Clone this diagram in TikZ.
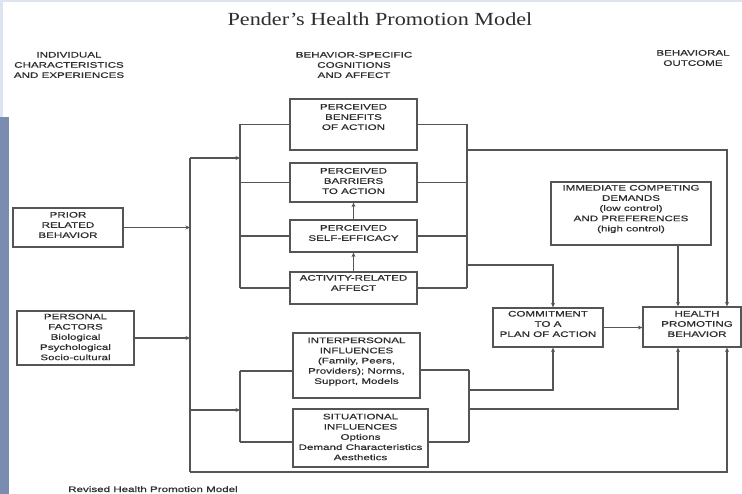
\documentclass[tikz,border=0pt]{standalone}
\usepackage{fontspec}
\setmainfont{Liberation Serif}
\newfontfamily\lblfont[FakeStretch=1.45,FakeBold=0.5]{Liberation Sans}
\newfontfamily\titlefont[FakeStretch=1.2]{Liberation Serif}
\usetikzlibrary{arrows.meta}
\definecolor{ln}{HTML}{555555}
\definecolor{tx}{HTML}{2E2E2E}
\definecolor{barc}{RGB}{122,140,176}
\definecolor{faint}{RGB}{222,227,242}
\begin{document}
\begin{tikzpicture}[x=1pt,y=-1pt,
  box/.style={draw=ln, line width=1.3pt, inner sep=0pt, fill=white},
  lbl/.style={font=\lblfont\fontsize{8}{10.2}\selectfont, text=tx, align=center, inner sep=0pt},
  conn/.style={draw=ln, line width=1.3pt},
  arr/.style={conn, -{Stealth[length=4.5pt,width=4pt]}}]
\useasboundingbox[fill=white] (0,0) rectangle (742,494);
% side decorations
\fill[faint] (0,0) rectangle (742,2);
\fill[faint] (0,0) rectangle (3,117);
\fill[barc] (0,117) rectangle (9,494);
% title and headers
\node[font=\titlefont\fontsize{18.5}{20}\selectfont, text=tx, inner sep=0pt] (title) at (380,19) {Pender’s Health Promotion Model};
\node[lbl] (h1) at (69,65) {INDIVIDUAL\\CHARACTERISTICS\\AND EXPERIENCES};
\node[lbl] (h2) at (354,65) {BEHAVIOR-SPECIFIC\\COGNITIONS\\AND AFFECT};
\node[lbl] (h3) at (693,58) {BEHAVIORAL\\OUTCOME};
\node[lbl, anchor=base west] (cap) at (68,492) {Revised Health Promotion Model};
% boxes
\node[box, minimum width=110pt, minimum height=39pt] (prior) at (68,227.5) {};
\node[lbl] at ([yshift=2.5pt]prior.center) {PRIOR\\RELATED\\BEHAVIOR};
\node[box, minimum width=117pt, minimum height=54pt] (personal) at (75.5,338) {};
\node[lbl] at ([yshift=1pt]personal.center) {PERSONAL\\FACTORS\\Biological\\Psychological\\Socio-cultural};
\node[box, minimum width=127pt, minimum height=51pt] (benefits) at (353.5,124.5) {};
\node[lbl] at ([yshift=7.5pt]benefits.center) {PERCEIVED\\BENEFITS\\OF ACTION};
\node[box, minimum width=127pt, minimum height=39pt] (barriers) at (353.5,182.5) {};
\node[lbl] at ([yshift=1.5pt]barriers.center) {PERCEIVED\\BARRIERS\\TO ACTION};
\node[box, minimum width=127pt, minimum height=32pt] (selfeff) at (353.5,236) {};
\node[lbl] at ([yshift=3pt]selfeff.center) {PERCEIVED\\SELF-EFFICACY};
\node[box, minimum width=127pt, minimum height=32pt] (activity) at (353.5,288) {};
\node[lbl] at ([yshift=5pt]activity.center) {ACTIVITY-RELATED\\AFFECT};
\node[box, minimum width=127pt, minimum height=65pt] (inter) at (356.5,365.5) {};
\node[lbl] at ([yshift=4pt]inter.center) {INTERPERSONAL\\INFLUENCES\\(Family, Peers,\\Providers); Norms,\\Support, Models};
\node[box, minimum width=135pt, minimum height=58pt] (situ) at (360.5,438) {};
\node[lbl] at ([yshift=1pt]situ.center) {SITUATIONAL\\INFLUENCES\\Options\\Demand Characteristics\\Aesthetics};
\node[box, minimum width=160pt, minimum height=63pt] (compete) at (631,213.5) {};
\node[lbl] at ([yshift=4.5pt]compete.center) {IMMEDIATE COMPETING\\DEMANDS\\(low control)\\AND PREFERENCES\\(high control)};
\node[box, minimum width=110pt, minimum height=39pt] (commit) at (548,327.5) {};
\node[lbl] at ([yshift=3.5pt]commit.center) {COMMITMENT\\TO A\\PLAN OF ACTION};
\node[box, minimum width=98pt, minimum height=40pt] (hpb) at (692,327) {};
\node[lbl] at ([xshift=5pt,yshift=3pt]hpb.center) {HEALTH\\PROMOTING\\BEHAVIOR};
% junction coordinates
\coordinate (L1) at (190,158);
\coordinate (L2) at (190,410);
\coordinate (L3) at (190,472);
\coordinate (T) at (240,158);
\coordinate (R1) at (467,150);
\coordinate (R2) at (467,265);
\coordinate (B) at (240,410);
\coordinate (Ba) at (240,371);
\coordinate (Bb) at (240,442);
\coordinate (Ra) at (469,370);
\coordinate (Rb) at (469,442);
\coordinate (Rc) at (469,390);
\coordinate (Rd) at (469,409);
\coordinate (xc) at (553,0);
\coordinate (xd) at (678,0);
\coordinate (xe) at (727,0);
% left bus
\draw[arr] (prior.east) -- (prior.east -| L1);
\draw[arr] (personal.east) -- (personal.east -| L1);
\draw[conn] (L1) -- (L3);
\draw[arr] (L1) -- (T);
\draw[arr] (L2) -- (B);
\draw[arr] (L3) -| (hpb.south -| xe);
% cognitions bus
\draw[conn] (benefits.west -| T) -- (activity.west -| T);
\foreach \n in {benefits,barriers,selfeff,activity}{
  \draw[conn] (\n.west -| T) -- (\n.west);
  \draw[conn] (\n.east) -- (\n.east -| R1);
}
\draw[conn] (benefits.east -| R1) -- (activity.east -| R1);
\draw[arr] (selfeff.north) -- (barriers.south);
\draw[arr] (activity.north) -- (selfeff.south);
\draw[arr] (R1) -| (hpb.north -| xe);
\draw[arr] (R2) -| (commit.north -| xc);
% influences bus
\draw[conn] (Ba) -- (Bb);
\draw[conn] (Ba) -- (Ba -| inter.west);
\draw[conn] (Bb) -- (Bb -| situ.west);
\draw[conn] (Ra) -- (Rb);
\draw[conn] (inter.east |- Ra) -- (Ra);
\draw[conn] (situ.east |- Rb) -- (Rb);
\draw[arr] (Rc) -| (commit.south -| xc);
\draw[arr] (Rd) -| (hpb.south -| xd);
% outcome
\draw[arr] (commit.east) -- (commit.east -| hpb.west);
\draw[arr] (compete.south -| xd) -- (hpb.north -| xd);
\end{tikzpicture}
\end{document}
